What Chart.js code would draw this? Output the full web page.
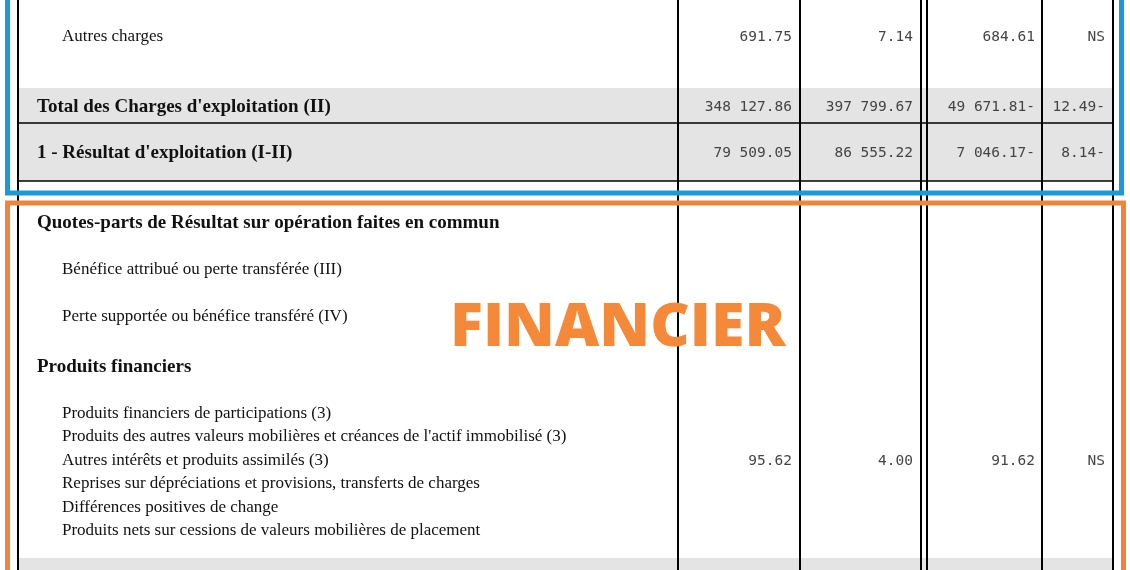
<!DOCTYPE html>
<html><head><meta charset="utf-8">
<script src="https://cdn.jsdelivr.net/npm/chart.js@4/dist/chart.umd.min.js"></script>
<style>
body{margin:0;width:1130px;height:570px;overflow:hidden;background:#fff;position:relative}
#c{position:absolute;left:0;top:0}
.t{position:absolute;white-space:nowrap;font-family:"Liberation Serif",serif;font-size:17px;color:#111;transform:translateY(-50%)}
.b{font-weight:bold;font-size:19px}
.n{position:absolute;white-space:nowrap;font-family:"DejaVu Sans Mono",monospace;font-size:14.5px;color:#444;transform:translate(-100%,-50%)}
#fin{position:absolute;left:450px;top:322px;transform:translateY(-50%);font-family:"Open Sans",sans-serif;font-weight:800;font-size:61px;color:#f5893a}
</style></head><body>
<canvas id="c" width="1130" height="570"></canvas>
<div id="fin">FINANCIER</div>
<script>
var rowLabels = ["Autres charges", "Total des Charges d'exploitation (II)", "1 - Résultat d'exploitation (I-II)",
  "Quotes-parts de Résultat sur opération faites en commun", "Bénéfice attribué ou perte transférée (III)",
  "Perte supportée ou bénéfice transféré (IV)", "Produits financiers",
  "Produits financiers de participations (3)", "Produits des autres valeurs mobilières et créances de l'actif immobilisé (3)",
  "Autres intérêts et produits assimilés (3)", "Reprises sur dépréciations et provisions, transferts de charges",
  "Différences positives de change", "Produits nets sur cessions de valeurs mobilières de placement"];
var rowY = [36, 106, 152, 222, 269, 316, 366, 413, 436, 460, 483, 507, 530];
var rowBold = [0, 1, 1, 1, 0, 0, 1, 0, 0, 0, 0, 0, 0];
var colN = ["691.75", "348 127.86", "79 509.05", "", "", "", "", "", "", "95.62", "", "", ""];
var colN1 = ["7.14", "397 799.67", "86 555.22", "", "", "", "", "", "", "4.00", "", "", ""];
var colVar = ["684.61", "49 671.81-", "7 046.17-", "", "", "", "", "", "", "91.62", "", "", ""];
var colPct = ["NS", "12.49-", "8.14-", "", "", "", "", "", "", "NS", "", "", ""];

var colRight = [792, 913, 1035, 1105];
var vLines = [18, 678, 800, 921, 927, 1042, 1113];
var grayBands = [[88, 181], [558, 575]];
var hLines = [123, 181];

rowLabels.forEach(function (l, i) {
  var d = document.createElement("div");
  d.className = "t" + (rowBold[i] ? " b" : "");
  d.style.left = (rowBold[i] ? 37 : 62) + "px";
  d.style.top = rowY[i] + "px";
  d.textContent = l;
  document.body.appendChild(d);
  [colN, colN1, colVar, colPct].forEach(function (col, k) {
    if (!col[i]) return;
    var e = document.createElement("div");
    e.className = "n";
    e.style.left = colRight[k] + "px";
    e.style.top = rowY[i] + "px";
    e.textContent = col[i];
    document.body.appendChild(e);
  });
});

var tablePlugin = {
  id: "table",
  beforeDraw: function (chart) {
    var ctx = chart.ctx;
    ctx.save();
    ctx.fillStyle = "#e4e4e4";
    grayBands.forEach(function (b) { ctx.fillRect(18, b[0], 1095, b[1] - b[0]); });
    ctx.strokeStyle = "#000";
    ctx.lineWidth = 1.5;
    hLines.forEach(function (y) { ctx.beginPath(); ctx.moveTo(18, y); ctx.lineTo(1113, y); ctx.stroke(); });
    ctx.lineWidth = 2;
    vLines.forEach(function (x) { ctx.beginPath(); ctx.moveTo(x, 0); ctx.lineTo(x, 570); ctx.stroke(); });
    ctx.lineWidth = 5;
    ctx.strokeStyle = "#1a9bd7";
    ctx.strokeRect(7.5, -10, 1114, 203);
    ctx.strokeStyle = "#f0843a";
    ctx.strokeRect(7.5, 203, 1116, 400);
    ctx.restore();
  }
};

new Chart(document.getElementById("c"), {
  type: "scatter",
  data: { datasets: [] },
  options: {
    responsive: false, animation: false,
    plugins: { legend: { display: false }, tooltip: { enabled: false } },
    scales: { x: { display: false }, y: { display: false } }
  },
  plugins: [tablePlugin]
});
</script>
</body></html>
